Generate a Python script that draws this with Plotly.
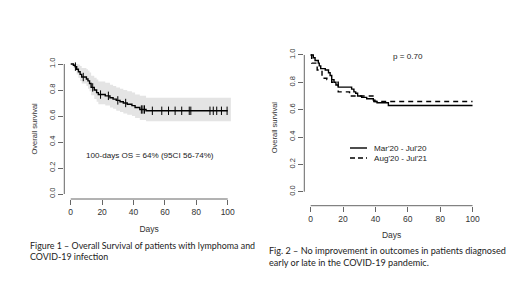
import plotly.graph_objects as go

# ---- Figure 1: overall survival (KM) ----
os_time = [0, 1.7, 2.8, 3.8, 4.9, 6, 7, 10, 11, 12, 13, 15, 16.5, 17.6, 22, 25, 27, 29, 31.4, 33.5, 36, 39, 41, 44, 48, 100]
os_surv = [1.0, 0.99, 0.98, 0.96, 0.94, 0.92, 0.90, 0.885, 0.87, 0.85, 0.82, 0.80, 0.78, 0.765, 0.755, 0.74, 0.73, 0.72, 0.71, 0.70, 0.69, 0.68, 0.665, 0.65, 0.64, 0.64]
ci_time = [0, 1.7, 2.8, 3.8, 4.9, 6, 7, 10, 11, 12, 13, 15, 16.5, 17.6, 22, 25, 27, 29, 31.4, 33.5, 36, 39, 41, 44, 48, 102]
ci_upper = [1.0, 1.0, 1.0, 1.0, 0.995, 0.985, 0.97, 0.96, 0.95, 0.935, 0.91, 0.895, 0.88, 0.865, 0.855, 0.84, 0.83, 0.82, 0.81, 0.80, 0.79, 0.78, 0.765, 0.755, 0.74, 0.74]
ci_lower = [1.0, 0.97, 0.95, 0.92, 0.895, 0.87, 0.85, 0.83, 0.81, 0.79, 0.76, 0.73, 0.71, 0.69, 0.68, 0.665, 0.655, 0.64, 0.63, 0.62, 0.61, 0.60, 0.585, 0.57, 0.56, 0.56]
cens_time = [3, 8, 14, 19, 24, 30, 35, 45, 46, 47, 52, 58, 62.3, 66.5, 70.7, 75.5, 76.5, 88.7, 90.8, 93, 96, 99.6]
cens_surv = [0.98, 0.90, 0.82, 0.765, 0.755, 0.72, 0.70, 0.65, 0.65, 0.65, 0.64, 0.64, 0.64, 0.64, 0.64, 0.64, 0.64, 0.64, 0.64, 0.64, 0.64, 0.64]

# ---- Figure 2: by period ----
p1_time = [0, 1.6, 2.7, 4.7, 5.3, 6.2, 9, 11, 12, 13, 14.4, 15.6, 17, 25.3, 26.7, 27.8, 29, 31.5, 34.6, 38.7, 39.7, 41, 48, 100]
p1_surv = [1.0, 0.98, 0.96, 0.94, 0.92, 0.90, 0.89, 0.87, 0.85, 0.82, 0.80, 0.78, 0.765, 0.75, 0.73, 0.72, 0.70, 0.69, 0.68, 0.67, 0.66, 0.65, 0.63, 0.63]
p2_time = [0, 0.6, 4, 7, 10, 13, 17, 24, 39, 100]
p2_surv = [1.0, 0.94, 0.89, 0.83, 0.82, 0.80, 0.73, 0.70, 0.66, 0.66]
group_labels = ["Mar'20 - Jul'20", "Aug'20 - Jul'21"]
x_ticks = [0, 20, 40, 60, 80, 100]
y_ticks = [0.0, 0.2, 0.4, 0.6, 0.8, 1.0]

AX = "#666666"
TXT = "#333333"
F = "Liberation Sans, Arial, sans-serif"
CAP = "Lato, sans-serif"

# page has an 8px body margin: figure is 512x284 placed at (8,8)
OFF = 8
W, H = 512, 284
def px(x):
    return (x - OFF) / W
def py(y):
    return 1 - (y - OFF) / H

fig = go.Figure()
fig.add_trace(go.Scatter(x=ci_time, y=ci_lower, mode="lines", line=dict(width=0, shape="hv"),
                         xaxis="x", yaxis="y", showlegend=False, hoverinfo="skip"))
fig.add_trace(go.Scatter(x=ci_time, y=ci_upper, mode="lines", line=dict(width=0, shape="hv"),
                         fill="tonexty", fillcolor="#e4e4e4",
                         xaxis="x", yaxis="y", showlegend=False, hoverinfo="skip"))
fig.add_trace(go.Scatter(x=os_time, y=os_surv, mode="lines", line=dict(color="black", width=1.4, shape="hv"),
                         xaxis="x", yaxis="y", showlegend=False))
fig.add_trace(go.Scatter(x=cens_time, y=cens_surv, mode="markers",
                         marker=dict(symbol="line-ns-open", size=6, color="black", line=dict(color="black", width=1)),
                         xaxis="x", yaxis="y", showlegend=False))
fig.add_trace(go.Scatter(x=p1_time, y=p1_surv, mode="lines", line=dict(color="black", width=1.4, shape="hv"),
                         xaxis="x2", yaxis="y2", showlegend=False))
fig.add_trace(go.Scatter(x=p2_time, y=p2_surv, mode="lines",
                         line=dict(color="black", width=1.4, shape="hv", dash="5px,4px"),
                         xaxis="x2", yaxis="y2", showlegend=False))

def xax(domain, rng):
    return dict(domain=domain, range=rng, tickvals=x_ticks, showgrid=False, zeroline=False,
                showline=False, ticks="outside", ticklen=5, tickcolor=AX, tickwidth=1,
                tickfont=dict(family=F, size=8.5, color=TXT),
                title=dict(text="Days", font=dict(family=F, size=8.5, color=TXT), standoff=9))

def yax(domain, rng, anchor):
    return dict(domain=domain, range=rng, tickvals=y_ticks, ticktext=[f"{v:.1f}" for v in y_ticks],
                showgrid=False, zeroline=False, showline=False, ticks="outside", ticklen=5,
                tickcolor=AX, tickwidth=1, tickangle=-90, anchor=anchor,
                tickfont=dict(family=F, size=7.5, color=TXT),
                title=dict(text="Overall survival", font=dict(family=F, size=7.5, color=TXT), standoff=9))

fig.update_layout(
    width=W, height=H, margin=dict(l=0, r=0, t=0, b=0),
    paper_bgcolor="white", plot_bgcolor="white",
    xaxis=dict(**xax([px(64.3), px(234)], [-4.08, 104]), anchor="y"),
    yaxis=yax([py(199), py(58.8)], [-0.0385, 1.04], "x"),
    xaxis2=dict(**xax([px(304.3), px(479)], [-3.95, 104]), anchor="y2"),
    yaxis2=yax([py(205.7), py(49.5)], [-0.1024, 1.04], "x2"),
)

shapes = []
for xa, ya in (("x", "y"), ("x2", "y2")):
    shapes.append(dict(type="line", xref=xa, yref=f"{ya} domain", x0=0, x1=100, y0=0, y1=0,
                       line=dict(color=AX, width=1)))
    shapes.append(dict(type="line", xref=f"{xa} domain", yref=ya, x0=0, x1=0, y0=0, y1=1,
                       line=dict(color=AX, width=1)))
shapes.append(dict(type="line", xref="paper", yref="paper", x0=px(350), x1=px(367),
                   y0=py(148), y1=py(148), line=dict(color="black", width=1.4)))
shapes.append(dict(type="line", xref="paper", yref="paper", x0=px(350), x1=px(367),
                   y0=py(158), y1=py(158), line=dict(color="black", width=1.4, dash="5px,3px")))
fig.update_layout(shapes=shapes)

def cap(x, y, text, size):
    return dict(x=px(x), y=py(y), xref="paper", yref="paper", xanchor="left", yanchor="middle",
                align="left", text=text, showarrow=False, font=dict(family=CAP, size=size, color="#222"))

ann = [
    dict(x=50.5, y=0.30, xref="x", yref="y", text="100-days OS = 64% (95CI 56-74%)", showarrow=False,
         font=dict(family=F, size=8.1, color="#222")),
    dict(x=60, y=0.99, xref="x2", yref="y2", text="p = 0.70", showarrow=False,
         font=dict(family=F, size=8.1, color="#222")),
    dict(x=px(372), y=py(148), xref="paper", yref="paper", text=group_labels[0], showarrow=False,
         xanchor="left", font=dict(family=F, size=8.1, color="#222")),
    dict(x=px(372), y=py(158), xref="paper", yref="paper", text=group_labels[1], showarrow=False,
         xanchor="left", font=dict(family=F, size=8.1, color="#222")),
    cap(28, 245, "Figure 1 – Overall Survival of patients with lymphoma and", 8.9),
    cap(28, 256.5, "COVID-19 infection", 8.9),
    cap(267, 250.5, "Fig. 2 – No improvement in outcomes in patients diagnosed", 9.1),
    cap(267, 262, "early or late in the COVID-19 pandemic.", 9.1),
]
fig.update_layout(annotations=ann)

fig.write_html("out.html")
